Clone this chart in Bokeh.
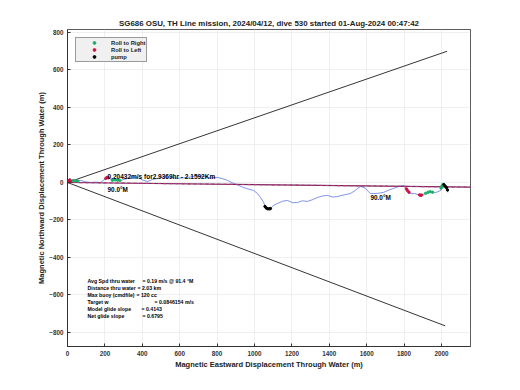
from bokeh.plotting import figure
from bokeh.models import Range1d, Label, Legend, LegendItem, SingleIntervalTicker
from bokeh.embed import file_html
from bokeh.resources import INLINE

title_text = "SG686 OSU, TH Line mission, 2024/04/12, dive 530 started 01-Aug-2024 00:47:42"
x_label = "Magnetic Eastward Displacement Through Water (m)"
y_label = "Magnetic Northward Displacement Through Water (m)"

# trajectory through water (m)
traj_x = [0, 8, 15, 32, 50, 70, 95, 123, 150, 176, 195, 214, 230, 246, 265, 283, 300, 321, 345, 374, 400,
          428, 455, 481, 515, 551, 590, 642, 685, 727, 765, 802, 830, 856, 888, 915, 941, 970, 995, 1015,
          1032, 1048, 1059, 1072, 1086, 1105, 1123, 1150, 1176, 1205, 1230, 1255, 1283, 1310, 1337, 1365,
          1390, 1418, 1444, 1480, 1513, 1535, 1551, 1567, 1580, 1594, 1608, 1620, 1636, 1660, 1690, 1715,
          1743, 1770, 1797, 1808, 1818, 1834, 1860, 1888, 1905, 1925, 1940, 1957, 1975, 1995, 2000, 2005,
          2011, 2022, 2032, 2034]
traj_y = [0, 10, 6, 11, 8, 11, 4, 0, 2, 0, 14, 27, 18, 11, 13, 11, 16, 21, 30, 27, 14,
          5, 16, 21, 30, 27, 22, 27, 34, 32, 24, 27, 20, 11, -5, -16, -27, -36, -43, -58,
          -80, -105, -133, -142, -139, -120, -112, -100, -96, -108, -107, -98, -101, -92, -80, -72,
          -69, -78, -75, -66, -59, -45, -32, -21, -25, -32, -48, -59, -59, -58, -53, -42,
          -32, -22, -16, -30, -43, -59, -60, -69, -62, -53, -48, -53, -52, -43, -28, -16,
          -11, -24, -32, -53]

# attitude / pump markers along the track
roll_right_x = [30, 42, 55, 240, 255, 268, 280, 1915, 1928, 1940, 1952, 1998, 2003, 2008]
roll_right_y = [10, 9, 7, 12, 14, 12, 11, -58, -52, -49, -52, -30, -18, -10]
roll_left_x = [4, 8, 12, 16, 205, 212, 218, 1812, 1818, 1826, 1882, 1888, 1894]
roll_left_y = [4, 10, 14, 8, 22, 27, 25, -34, -43, -52, -66, -69, -67]
pump_x = [1056, 1063, 1070, 1078, 1085, 2013, 2020, 2027, 2032]
pump_y = [-128, -136, -140, -141, -139, -12, -20, -28, -40]

# depth-averaged current heading line and the cone lines
mean_x = [0, 2160]
mean_y = [0, -25]
cone_upper_x = [0, 2030]
cone_upper_y = [0, 700]
cone_lower_x = [0, 2020]
cone_lower_y = [0, -765]

speed_note = "0.20432m/s for2.9369hr - 2.1592Km"
heading_note = "90.0°M"
stat_names = ["Avg Spd thru water", "Distance thru water", "Max buoy (cmdfile)", "Target w",
              "Model glide slope", "Net glide slope"]
stat_values = ["= 0.19 m/s @ 91.4 °M", "=  2.03 km", "= 120 cc", "= 0.0846154 m/s", "= 0.4143", "= 0.6795"]
stat_eq_px = [55, 50, 49, 67, 54, 55]

FONT = "Liberation Sans"

p = figure(output_backend="svg", toolbar_location=None,
           frame_width=403, frame_height=317,
           x_range=Range1d(0, 2155), y_range=Range1d(-875, 816),
           min_border_left=67, min_border_right=40, min_border_top=29, min_border_bottom=30,
           background_fill_color="white", border_fill_color="white")

p.title.text = title_text
p.title.align = "center"
p.title.text_font = FONT
p.title.text_font_size = "7.9px"
p.title.text_font_style = "bold"
p.title.text_color = "#222222"
p.title.standoff = 4

p.outline_line_color = "#333333"
p.outline_line_width = 0.8

for ax in (p.xaxis[0], p.yaxis[0]):
    ax.ticker = SingleIntervalTicker(interval=200)
    ax.major_tick_in = 3
    ax.major_tick_out = 0
    ax.minor_tick_in = 0
    ax.minor_tick_out = 0
    ax.axis_line_color = "#333333"
    ax.major_tick_line_color = "#333333"
    ax.major_label_text_font = FONT
    ax.major_label_text_font_size = "6.3px"
    ax.major_label_text_font_style = "bold"
    ax.major_label_text_color = "#333333"
    ax.major_label_standoff = 4
    ax.axis_label_text_font = FONT
    ax.axis_label_text_font_size = "7.5px"
    ax.axis_label_text_font_style = "bold"
    ax.axis_label_text_color = "#222222"
p.xaxis[0].axis_label = x_label
p.yaxis[0].axis_label = y_label
p.xaxis[0].axis_label_standoff = 1
p.yaxis[0].axis_label_standoff = 0

p.grid.grid_line_color = "#e8e8e8"
p.grid.grid_line_width = 0.7
p.xgrid.ticker = SingleIntervalTicker(interval=200)
p.ygrid.ticker = SingleIntervalTicker(interval=200)

p.line(cone_upper_x, cone_upper_y, line_color="black", line_width=0.8)
p.line(cone_lower_x, cone_lower_y, line_color="black", line_width=0.8)
p.line(traj_x, traj_y, line_color="#4a66dd", line_width=0.7)
p.line(mean_x, mean_y, line_color="#6a2a66", line_width=1.1)
p.line(mean_x, mean_y, line_color="#c0306a", line_width=1.1, line_dash="3 3")

r_right = p.scatter(roll_right_x, roll_right_y, marker="circle", size=2.4, fill_color="#19b06a", line_color="#19b06a")
r_left = p.scatter(roll_left_x, roll_left_y, marker="circle", size=2.4, fill_color="#cc1444", line_color="#cc1444")
r_pump = p.scatter(pump_x, pump_y, marker="circle", size=2.4, fill_color="black", line_color="black")

legend = Legend(items=[LegendItem(label="Roll to Right", renderers=[r_right]),
                       LegendItem(label="Roll to Left", renderers=[r_left]),
                       LegendItem(label="pump", renderers=[r_pump])],
                location="top_left", margin=8, padding=1, spacing=0,
                glyph_width=34, glyph_height=7, label_height=7, label_standoff=0,
                label_text_font=FONT, label_text_font_size="5.8px", label_text_font_style="bold",
                label_text_color="#222222",
                background_fill_color="#f0f0f0", background_fill_alpha=1,
                border_line_color="#444444", border_line_width=0.6)
p.add_layout(legend)

def note(x, y, txt, size="5.2px", **kw):
    p.add_layout(Label(x=x, y=y, text=txt, text_font=FONT, text_font_size=size,
                       text_font_style="bold", text_color="black", text_baseline="middle", **kw))

note(214, 32, speed_note, size="6.5px")
note(214, -37, heading_note, size="6.4px")
note(1620, -80, heading_note, size="6.4px")

px_per_m = 403 / 2155.0
for i, (name, val) in enumerate(zip(stat_names, stat_values)):
    yy = -528 - i * 7.0 / 0.1875
    note(107, yy, name)
    note(107 + stat_eq_px[i] / px_per_m, yy, val)

open("out.html", "w").write(file_html(p, INLINE))
